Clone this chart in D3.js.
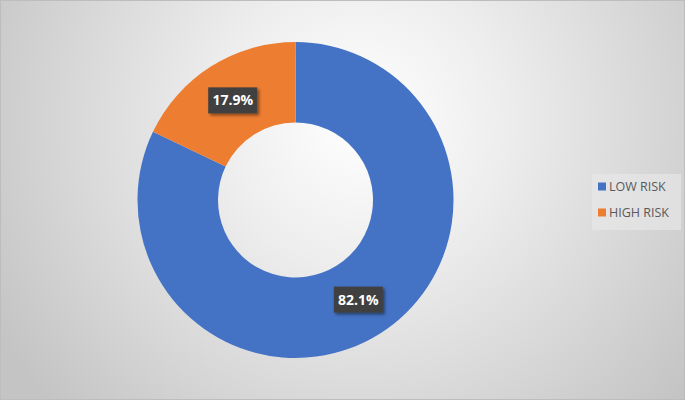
<!DOCTYPE html>
<html><head><meta charset="utf-8">
<script src="https://cdn.jsdelivr.net/npm/d3@7"></script>
<style>body{margin:0;padding:0;overflow:hidden;background:#fff}</style>
</head><body>
<script>
const categories = ["LOW RISK", "HIGH RISK"];
const values = [82.1, 17.9];
const colors = ["#4472C4", "#ED7D31"];

const W = 685, H = 400;
const svg = d3.select("body").append("svg").attr("width", W).attr("height", H);
const defs = svg.append("defs");
const rg = defs.append("radialGradient").attr("id", "bg")
  .attr("gradientUnits", "userSpaceOnUse").attr("cx", 360).attr("cy", 120).attr("r", 420);
rg.append("stop").attr("offset", 0).attr("stop-color", "#ffffff");
rg.append("stop").attr("offset", 0.35).attr("stop-color", "#ededed");
rg.append("stop").attr("offset", 1).attr("stop-color", "#c4c4c4");
const sh = defs.append("filter").attr("id", "sh").attr("x", -0.3).attr("y", -0.3).attr("width", 1.6).attr("height", 1.6);
sh.append("feDropShadow").attr("dx", 2).attr("dy", 2).attr("stdDeviation", 1.5).attr("flood-color", "#000").attr("flood-opacity", 0.45);

svg.append("rect").attr("x", 0.5).attr("y", 0.5).attr("width", W - 1).attr("height", H - 1)
  .attr("fill", "url(#bg)").attr("stroke", "#bdbdbd");

const cx = 295.5, cy = 200, R = 158, r0 = 77.5;
const pie = d3.pie().sort(null).value(d => d)(values);
const arc = d3.arc().innerRadius(r0).outerRadius(R);
const labelArc = d3.arc().innerRadius((R + r0) / 2).outerRadius((R + r0) / 2);
const g = svg.append("g").attr("transform", `translate(${cx},${cy})`);
g.selectAll("path.s").data(pie).join("path").attr("class", "s")
  .attr("d", arc).attr("fill", (d, i) => colors[i]);

const lg = g.selectAll("g.l").data(pie).join("g").attr("class", "l")
  .attr("transform", d => `translate(${labelArc.centroid(d)})`);
lg.append("rect").attr("x", -24.5).attr("y", -13).attr("width", 49).attr("height", 26)
  .attr("fill", "#404040").attr("filter", "url(#sh)");
lg.append("text").attr("text-anchor", "middle").attr("dy", "0.36em")
  .attr("fill", "#fff").attr("font-family", "Open Sans, Calibri, sans-serif")
  .attr("font-weight", "bold").attr("font-size", 14)
  .text((d, i) => values[i].toFixed(1) + "%");

const leg = svg.append("g");
leg.append("rect").attr("x", 592).attr("y", 174).attr("width", 89).attr("height", 56).attr("fill", "#e9e9e9").attr("opacity", 0.6);
const li = leg.selectAll("g").data(categories).join("g")
  .attr("transform", (d, i) => `translate(598,${186.5 + i * 26})`);
li.append("rect").attr("x", 0).attr("y", -4).attr("width", 8).attr("height", 8).attr("fill", (d, i) => colors[i]);
li.append("text").attr("x", 11).attr("dy", "0.36em").attr("fill", "#595959")
  .attr("font-family", "Open Sans, Calibri, sans-serif").attr("font-size", 12.5).text(d => d);
</script>
</body></html>
